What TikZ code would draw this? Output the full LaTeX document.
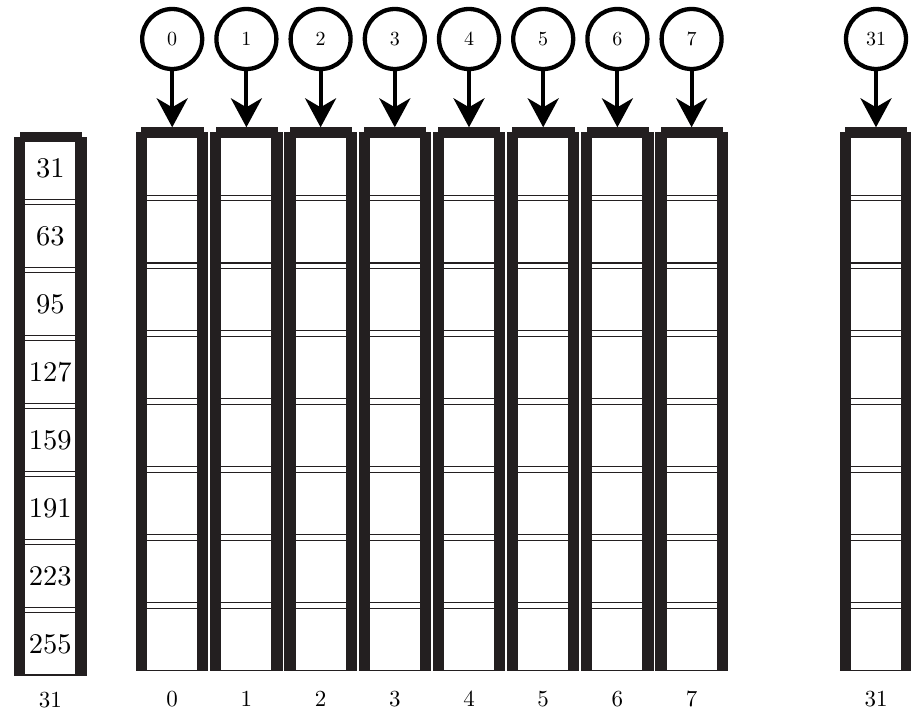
\documentclass[tikz,border=0pt]{standalone}
\usetikzlibrary{arrows.meta}
\definecolor{bar}{HTML}{231F20}
\newcommand\memcol[5]{% #1 center x, #2 top, #3 bottom, #4 first divider mid, #5 step
  \fill[bar] ({#1-36.2},#2) rectangle ({#1+36.2},#3);
  \fill[bar] ({#1-30.8},{#2-5}) rectangle ({#1+31.4},{#2+0.5});
  \fill[white] ({#1-25},{#2+5.5}) rectangle ({#1+25},#3);
  \draw[bar,line width=1.2pt] ({#1-36.2},#3) -- ({#1+36.2},#3);
  \foreach \k in {0,...,6}{%
    \draw[divline] ({#1-25},{#4+#5*\k-2.85}) -- ({#1+25},{#4+#5*\k-2.85});
    \draw[divline] ({#1-25},{#4+#5*\k+2.85}) -- ({#1+25},{#4+#5*\k+2.85});
  }%
}
\begin{document}
\begin{tikzpicture}[x=1pt,y=-1pt,
  divline/.style={draw=bar,line width=1.1pt},
  circ/.style={circle,draw=black,line width=4.3pt,minimum size=60pt,inner sep=0pt},
  circlab/.style={font=\fontsize{10}{12}\selectfont,inner sep=0pt,scale=2.0},
  arr/.style={-{Stealth[length=29pt,width=31pt,inset=9pt]},line width=4pt,draw=black},
  botlab/.style={font=\fontsize{10}{12}\selectfont,inner sep=0pt,scale=2.3},
  leftlab/.style={font=\fontsize{10}{12}\selectfont,inner sep=0pt,scale=2.85}]
\useasboundingbox (0,0) rectangle (911,715);

% left column (31 .. 255)
\memcol{50.3}{136.7}{675}{202}{68}
\foreach \v [count=\k from 0] in {31,63,95,127,159,191,223,255}
  \node[leftlab] (L\k) at (50.3,{168+68*\k}) {\v};
\node[botlab] (lb) at (50.3,700) {31};

% columns 0..7
\foreach \i in {0,...,7}{
  \pgfmathsetmacro\cx{172.2+74.2*\i}
  \memcol{\cx}{132.3}{670.7}{197.9}{67.93}
  \coordinate (top\i) at (\cx,127.3);
  \node[circ] (c\i) at (\cx,39) {};
  \node[circlab] (t\i) at (c\i) {\i};
  \draw[arr] (c\i) -- (top\i);
  \node[botlab] (b\i) at (\cx,699) {\i};
}

% column 31
\memcol{876}{132.3}{670.7}{197.9}{67.93}
\coordinate (top31) at (876,127.3);
\node[circ] (c31) at (876,39) {};
\node[circlab] (t31) at (c31) {31};
\draw[arr] (c31) -- (top31);
\node[botlab] (b31) at (876,699) {31};
\end{tikzpicture}
\end{document}
